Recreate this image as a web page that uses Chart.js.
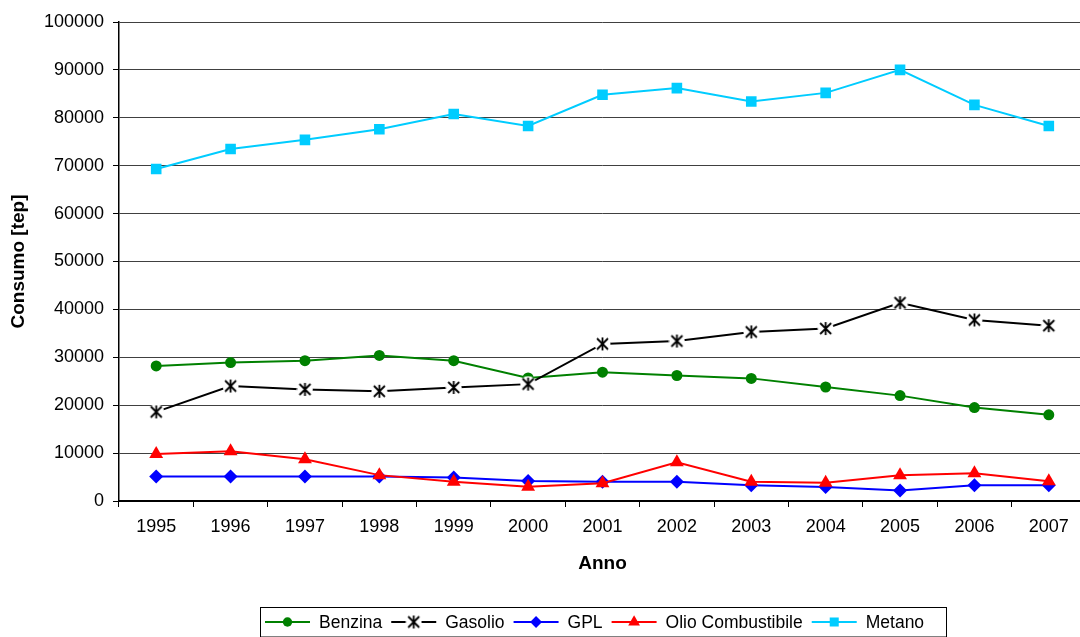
<!DOCTYPE html>
<html>
<head>
<meta charset="utf-8">
<script src="https://cdn.jsdelivr.net/npm/chart.js@4/dist/chart.umd.min.js"></script>
<style>
  html, body { margin: 0; padding: 0; background: #fff; overflow: hidden; }
  #wrap { width: 1094px; height: 637px; position: relative; }
</style>
</head>
<body>
<div id="wrap"><canvas id="c" width="1094" height="637"></canvas></div>
<script>
const years = ['1995','1996','1997','1998','1999','2000','2001','2002','2003','2004','2005','2006','2007'];
const benzina = [28200, 28900, 29300, 30400, 29300, 25700, 26900, 26200, 25600, 23800, 22000, 19500, 18000];
const gasolio = [18600, 24000, 23300, 22900, 23700, 24400, 32800, 33400, 35300, 36000, 41400, 37800, 36600];
const gpl = [5100, 5100, 5100, 5100, 4900, 4200, 4000, 4000, 3300, 2900, 2200, 3300, 3300];
const olio = [9800, 10400, 8700, 5400, 4000, 3000, 3700, 8100, 4000, 3800, 5400, 5800, 4100];
const metano = [69300, 73500, 75400, 77600, 80800, 78300, 84800, 86200, 83400, 85200, 90000, 82700, 78300];
const yTicks = [0, 10000, 20000, 30000, 40000, 50000, 60000, 70000, 80000, 90000, 100000];

const FONT = '"Liberation Sans", Arial, sans-serif';

// asterisk marker (X with vertical stroke) for Gasolio
function makeAsterisk(size) {
  const c = document.createElement('canvas');
  c.width = size; c.height = size;
  const g = c.getContext('2d');
  const m = size / 2;
  g.fillStyle = '#fff';
  g.beginPath(); g.arc(m, m, m - 0.5, 0, Math.PI * 2); g.fill();
  g.strokeStyle = '#000'; g.lineWidth = 1.8;
  const a = m - 2.5;
  g.beginPath();
  g.moveTo(m - a + 0.5, m - a + 0.5); g.lineTo(m + a - 0.5, m + a - 0.5);
  g.moveTo(m + a - 0.5, m - a + 0.5); g.lineTo(m - a + 0.5, m + a - 0.5);
  g.moveTo(m, m - a - 0.5); g.lineTo(m, m + a + 0.5);
  g.stroke();
  return c;
}
const asterisk = makeAsterisk(17);

const series = [
  { label: 'Benzina', data: benzina, color: '#008000', pointStyle: 'circle', radius: 5.5 },
  { label: 'Gasolio', data: gasolio, color: '#000000', pointStyle: asterisk, radius: 8 },
  { label: 'GPL', data: gpl, color: '#0000FF', pointStyle: 'rectRot', radius: 7 },
  { label: 'Olio Combustibile', data: olio, color: '#FF0000', pointStyle: 'triangle', radius: 8 },
  { label: 'Metano', data: metano, color: '#00CCFF', pointStyle: 'rect', radius: 7.5 }
];

const datasets = series.map((s, i) => ({
  label: s.label,
  data: s.data,
  borderColor: s.color,
  backgroundColor: s.color,
  pointBackgroundColor: s.color,
  pointBorderColor: s.color,
  pointBorderWidth: 0,
  pointStyle: s.pointStyle,
  pointRadius: s.radius,
  borderWidth: 2,
  tension: 0,
  order: 4 - i
}));

const legendPlugin = {
  id: 'customLegend',
  afterDraw(chart) {
    const ctx = chart.ctx;
    ctx.save();
    ctx.font = '17.5px ' + FONT;
    const boxL = 260, boxT = 607, boxR = 946, boxB = 636.5;
    ctx.strokeStyle = '#000';
    ctx.lineWidth = 1;
    ctx.strokeRect(boxL + 0.5, boxT + 0.5, boxR - boxL, boxB - boxT);
    const cy = 622;
    let x = 265;
    series.forEach((s) => {
      ctx.strokeStyle = s.color;
      ctx.lineWidth = 2;
      ctx.beginPath();
      ctx.moveTo(x, cy); ctx.lineTo(x + 45, cy);
      ctx.stroke();
      ctx.fillStyle = s.color;
      ctx.strokeStyle = s.color;
      Chart.helpers.drawPoint(ctx, { pointStyle: s.pointStyle, radius: s.radius * 0.85, borderWidth: 0 }, x + 22.5, cy);
      x += 45 + 9;
      ctx.fillStyle = '#000';
      ctx.textAlign = 'left';
      ctx.textBaseline = 'middle';
      ctx.fillText(s.label, x, cy + 1);
      x += ctx.measureText(s.label).width + 9;
    });
    ctx.restore();
  }
};

new Chart(document.getElementById('c'), {
  type: 'line',
  data: { labels: years, datasets },
  plugins: [legendPlugin],
  options: {
    responsive: false,
    animation: false,
    layout: { padding: { left: 0, right: 0, top: 22, bottom: 0 } },
    plugins: { legend: { display: false }, tooltip: { enabled: false } },
    elements: { line: { tension: 0 } },
    scales: {
      x: {
        type: 'category',
        offset: true,
        grid: { display: true, drawOnChartArea: false, drawTicks: true, offset: true, tickLength: 6, color: '#000', tickColor: '#000', lineWidth: 1 },
        border: { display: true, color: '#000', width: 2 },
        ticks: { color: '#000', font: { family: FONT, size: 18 }, padding: 9, maxRotation: 0, autoSkip: false },
        title: { display: true, text: 'Anno', color: '#000', font: { family: FONT, size: 19, weight: 'bold' }, padding: { top: 0, bottom: 62 } },
        afterFit(scale) { scale.height = 136; }
      },
      y: {
        min: 0,
        max: 100000,
        afterBuildTicks(scale) { scale.ticks = yTicks.map(v => ({ value: v })); },
        grid: { color: '#404040', tickColor: '#000', tickLength: 6, lineWidth: 1 },
        border: { display: true, color: '#000', width: 1.5 },
        ticks: { color: '#000', font: { family: FONT, size: 18 }, padding: 9, callback: v => String(v) },
        title: { display: true, text: 'Consumo [tep]', color: '#000', font: { family: FONT, size: 19, weight: 'bold' }, padding: { top: 7, bottom: 0 } },
        afterFit(scale) { scale.width = 119; }
      }
    }
  }
});
</script>
</body>
</html>
